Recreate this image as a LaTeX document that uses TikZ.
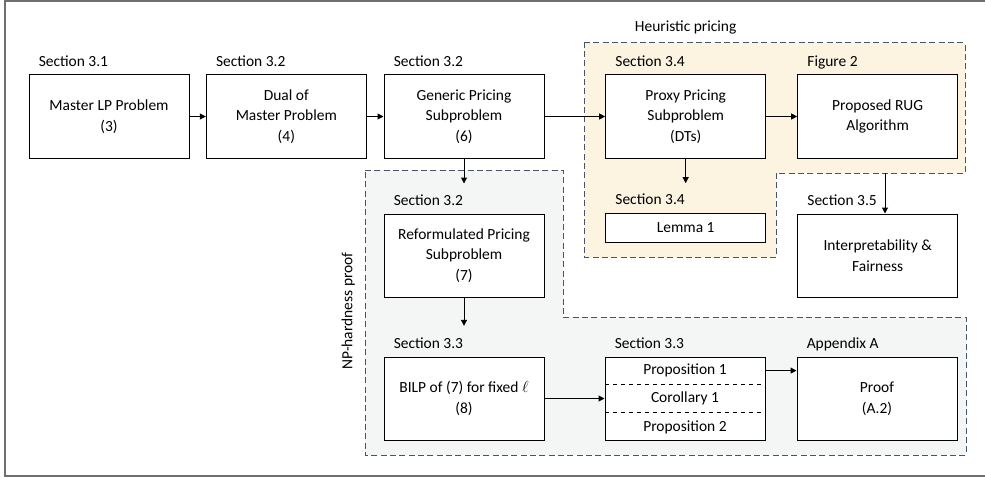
\documentclass[tikz,border=0pt]{standalone}
\usepackage{fontspec}
\setmainfont{Carlito}
\usepackage{tikz}
\usetikzlibrary{arrows.meta,positioning}
\definecolor{heurfill}{HTML}{FDF3E1}
\definecolor{npfill}{HTML}{F4F5F5}
\definecolor{regionline}{HTML}{44546A}
\definecolor{framegray}{HTML}{6F6F6F}
\tikzstyle{box} = [rectangle, draw=black, line width=0.75pt, fill=white, minimum width=120pt, minimum height=62.25pt, inner sep=0pt, align=center, font=\fontsize{11.6}{15.5}\selectfont]
\tikzstyle{smallbox} = [box, minimum height=21.75pt]
\tikzstyle{row} = [rectangle, minimum width=119.25pt, minimum height=20.75pt, inner sep=0pt, font=\fontsize{11.6}{13}\selectfont]
\tikzstyle{sec} = [inner sep=0pt, text depth=0pt, font=\fontsize{11.6}{13}\selectfont]
\tikzstyle{region} = [draw=regionline, line width=0.75pt, dash pattern=on 4.5pt off 2.5pt]
\tikzstyle{arrow} = [line width=0.75pt, -{Triangle[length=4.5pt,width=4.5pt]}]

\begin{document}
\begin{tikzpicture}[x=0.75pt, y=-0.75pt]
\useasboundingbox (0,0) rectangle (985,478);

% outer frame
\draw [framegray, line width=1.5pt] (5,1) rectangle (995,476);

% shaded regions
\draw [region, fill=heurfill] (584,43) -- (965,43) -- (965,173) -- (776,173) -- (776,257) -- (584,257) -- cycle;
\draw [region, fill=npfill] (365,170) -- (563,170) -- (563,317) -- (966,317) -- (966,455) -- (365,455) -- cycle;
\coordinate (heurstep) at (885,173);

% top row
\node (master) [box] at (109,116.5) {Master LP Problem\\(3)};
\node (dual) [box, right=12.25pt of master] {Dual of\\Master Problem\\(4)};
\node (generic) [box, right=12.5pt of dual] {Generic Pricing\\Subproblem\\(6)};
\node (proxy) [box, right=45.5pt of generic] {Proxy Pricing\\Subproblem\\(DTs)};
\node (rug) [box, right=23.25pt of proxy] {Proposed RUG\\Algorithm};

% middle row
\node (lemma) [smallbox, below=40.5pt of proxy] {Lemma 1};
\node (reform) [box, below=41.25pt of generic] {Reformulated Pricing\\Subproblem\\(7)};
\node (interp) [box, below=41.25pt of rug] {Interpretability \&\\Fairness};

% bottom row
\node (bilp) [box, below=44.25pt of reform] {BILP of (7) for fixed $\ell$\\(8)};
\node (props) [box, right=45pt of bilp] {};
\node (prop1) [row, below=0pt of props.north] {Proposition 1};
\node (coro1) [row, below=0pt of prop1] {Corollary 1};
\node (prop2) [row, below=0pt of coro1] {Proposition 2};
\node (proof) [box, right=23.25pt of props] {Proof\\(A.2)};

\draw [dashed, line width=0.75pt] (prop1.south west) -- (prop1.south east);
\draw [dashed, line width=0.75pt] (coro1.south west) -- (coro1.south east);

% section labels
\node (masterlbl) [sec, above right=6pt and 7.5pt of master.north west] {Section 3.1};
\node (duallbl) [sec, above right=6pt and 7.5pt of dual.north west] {Section 3.2};
\node (genericlbl) [sec, above right=6pt and 7.5pt of generic.north west] {Section 3.2};
\node (proxylbl) [sec, above right=6pt and 7.5pt of proxy.north west] {Section 3.4};
\node (ruglbl) [sec, above right=6pt and 7.5pt of rug.north west] {Figure 2};
\node (lemmalbl) [sec, above right=6pt and 7.5pt of lemma.north west] {Section 3.4};
\node (reformlbl) [sec, above right=6pt and 7.5pt of reform.north west] {Section 3.2};
\node (interplbl) [sec, above right=6pt and 7.5pt of interp.north west] {Section 3.5};
\node (bilplbl) [sec, above right=6pt and 7.5pt of bilp.north west] {Section 3.3};
\node (propslbl) [sec, above right=6pt and 7.5pt of props.north west] {Section 3.3};
\node (prooflbl) [sec, above right=6pt and 7.5pt of proof.north west] {Appendix A};

% region labels
\node (heurlbl) [sec, above=32.25pt of proxy.north] {Heuristic pricing};
\node (nplbl) [sec, rotate=90] at (347,311) {NP-hardness proof};

\draw [arrow] (master) -- (dual);
\draw [arrow] (dual) -- (generic);
\draw [arrow] (generic) -- (proxy);
\draw [arrow] (proxy) -- (rug);

\draw [arrow, shorten >=22.5pt] (generic) -- (reform);
\draw [arrow, shorten >=22pt] (proxy) -- (lemma);
\draw [arrow, shorten >=23pt] (reform) -- (bilp);
\draw [arrow] (heurstep) -- (heurstep |- interp.north);

\draw [arrow] (bilp) -- (props);
\draw [arrow] (prop1.east) -- (prop1.east -| proof.west);

\end{tikzpicture}
\end{document}
